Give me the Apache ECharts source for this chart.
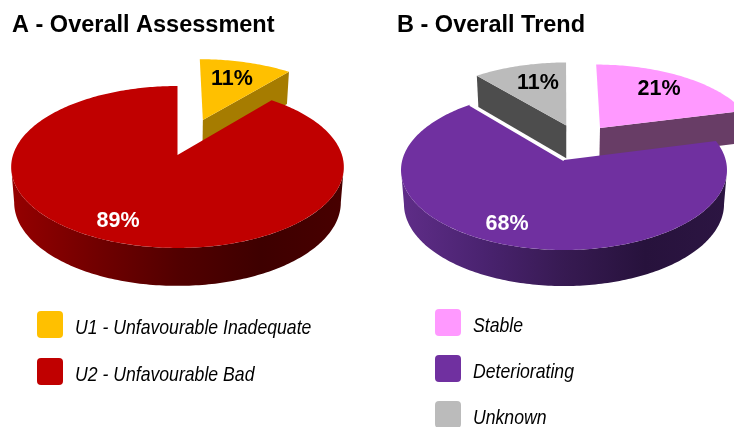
<!DOCTYPE html>
<html>
<head>
<meta charset="utf-8">
<style>
  html, body { margin: 0; padding: 0; background: #fff; }
  #chart { width: 734px; height: 427px; }
</style>
<script src="https://cdn.jsdelivr.net/npm/echarts@6/dist/echarts.min.js"></script>
</head>
<body>
<div id="chart"></div>
<script>
const assessmentNames = ['U1 - Unfavourable Inadequate', 'U2 - Unfavourable Bad']
const assessmentValues = [11, 89]
const assessmentColors = ['#FFC000', '#C00000']

const trendNames = ['Stable', 'Deteriorating', 'Unknown']
const trendValues = [21, 68, 11]
const trendColors = ['#FF99FF', '#7030A0', '#BBBBBB']

// perspective of each pie: apex on screen, disc scale, tilt k, wall height
const assessmentPie = { ax: 177.5, ay: 155, A: 164.5, B: 79.2, k: 0.148, depth: 35 }
const trendPie = { ax: 564, ay: 160, A: 161.7, B: 78.75, k: 0.125, depth: 33.7 }

const RAD = Math.PI / 180

// disc coords -> screen, u to the right, v towards the viewer
function project(pie, u, v) {
  const w = 1 - pie.k * v
  return [pie.ax + pie.A * u / w, pie.ay + pie.B * v / w, w]
}

function lowered(pie, p) {
  return [pie.ax + (p[0] - pie.ax) * 0.982, p[1] + pie.depth / Math.sqrt(p[2])]
}

function arcPoints(pie, from, to, off) {
  const pts = []
  const n = Math.max(2, Math.ceil(Math.abs(to - from)))
  for (let i = 0; i <= n; i++) {
    const t = (from + (to - from) * i / n) * RAD
    pts.push(project(pie, Math.sin(t) + off[0], -Math.cos(t) + off[1]))
  }
  return pts
}

function xy(pts) {
  return pts.map(p => [p[0], p[1]])
}

function polygon(points, fill) {
  return { type: 'polygon', shape: { points }, style: { fill } }
}

function sliceShapes(pie, from, to, opt) {
  const off = opt.offset || [0, 0]
  const apex = project(pie, off[0], off[1])
  const arc = arcPoints(pie, from, to, off)
  const children = []

  // radial wall of an exploded slice
  if (opt.wallEdge) {
    const corner = opt.wallEdge === 'end' ? arc[arc.length - 1] : arc[0]
    children.push(polygon(
      xy([apex, corner]).concat([lowered(pie, corner), lowered(pie, apex)]),
      opt.wallColor
    ))
  }

  // outer wall, only the part that faces the viewer
  if (opt.wallGradient) {
    const edge = Math.asin(pie.k) / RAD
    const front = arcPoints(pie, Math.max(from, 90 + edge), Math.min(to, 270 - edge), off)
    const stops = opt.wallGradient.map((c, i) => ({ offset: i / (opt.wallGradient.length - 1), color: c }))
    const fill = new echarts.graphic.LinearGradient(0, 0, 1, 0, stops)
    children.push(polygon(
      xy(front).concat(front.slice().reverse().map(p => lowered(pie, p))),
      fill
    ))
  }

  children.push(polygon([[apex[0], apex[1]]].concat(xy(arc)), opt.color))

  if (opt.whiteEdge) {
    const p = opt.whiteEdge === 'end' ? arc[arc.length - 1] : arc[0]
    children.push({
      type: 'line',
      shape: { x1: apex[0], y1: apex[1], x2: p[0], y2: p[1] },
      style: { stroke: '#fff', lineWidth: 2.5 }
    })
  }
  return children
}

function sliceSeries(pie, names, values, colors, opts, drawOrder) {
  const total = values.reduce((a, b) => a + b, 0)
  let acc = 0
  const spans = values.map(v => {
    const s = [acc / total * 360, (acc + v) / total * 360]
    acc += v
    return s
  })
  return drawOrder.map(i => ({
    type: 'custom',
    name: names[i],
    coordinateSystem: 'none',
    silent: true,
    animation: false,
    itemStyle: { color: colors[i] },
    data: [[spans[i][0], spans[i][1], values[i]]],
    renderItem: (params, api) => {
      const opt = Object.assign({ color: colors[i] }, opts[i])
      const children = sliceShapes(pie, api.value(0), api.value(1), opt)
      children.push({
        type: 'text',
        style: {
          x: opt.labelAt[0],
          y: opt.labelAt[1],
          text: api.value(2) + '%',
          fill: opt.labelColor,
          font: 'bold 21.5px "Liberation Sans", Arial, sans-serif',
          align: 'center',
          verticalAlign: 'middle'
        }
      })
      return { type: 'group', children }
    }
  }))
}

const assessmentOpts = [
  { offset: [0.165, -0.473], wallEdge: 'end', wallColor: '#A67C00', labelAt: [232, 79], labelColor: '#000' },
  { wallGradient: ['#950000', '#720000', '#520000', '#3E0000', '#480000'], labelAt: [118, 221], labelColor: '#fff' }
]
const trendOpts = [
  { offset: [0.2345, -0.428], wallEdge: 'end', wallColor: '#683D66', labelAt: [659, 89], labelColor: '#000' },
  { wallGradient: ['#5F2D88', '#4A2370', '#371A52', '#27123C', '#2C1542'], whiteEdge: 'end', labelAt: [507, 224], labelColor: '#fff' },
  { offset: [0.015, -0.465], wallEdge: 'start', wallColor: '#4D4D4D', labelAt: [538, 83], labelColor: '#000' }
]

// swatch + narrow italic label, there is no narrow font installed so the text is squeezed
function legendItems(names, colors, left, tops, textOffset) {
  const items = []
  names.forEach((name, i) => {
    items.push({
      type: 'rect',
      shape: { x: left, y: tops[i], width: 26, height: 27, r: 4 },
      style: { fill: colors[i] }
    })
    items.push({
      type: 'text',
      x: left + 38,
      y: tops[i] + textOffset,
      scaleX: 0.84,
      style: {
        text: name,
        font: 'italic 21px "Liberation Sans", Arial, sans-serif',
        fill: '#000',
        verticalAlign: 'middle'
      }
    })
  })
  return items
}

const titleStyle = {
  fontFamily: '"Liberation Sans", Arial, sans-serif',
  fontWeight: 'bold',
  fontSize: 23.5,
  color: '#000'
}

const chart = echarts.init(document.getElementById('chart'), null, { renderer: 'canvas' })
chart.setOption({
  animation: false,
  backgroundColor: '#fff',
  title: [
    { text: 'A - Overall Assessment', left: 12, top: 14, padding: 0, textStyle: titleStyle },
    { text: 'B - Overall Trend', left: 397, top: 14, padding: 0, textStyle: titleStyle }
  ],
  graphic: [
    ...legendItems(assessmentNames, assessmentColors, 37, [311, 358], 17),
    ...legendItems(trendNames, trendColors, 435, [309, 355, 401], 17)
  ],
  series: [
    ...sliceSeries(assessmentPie, assessmentNames, assessmentValues, assessmentColors, assessmentOpts, [0, 1]),
    ...sliceSeries(trendPie, trendNames, trendValues, trendColors, trendOpts, [0, 2, 1])
  ]
})
</script>
</body>
</html>
